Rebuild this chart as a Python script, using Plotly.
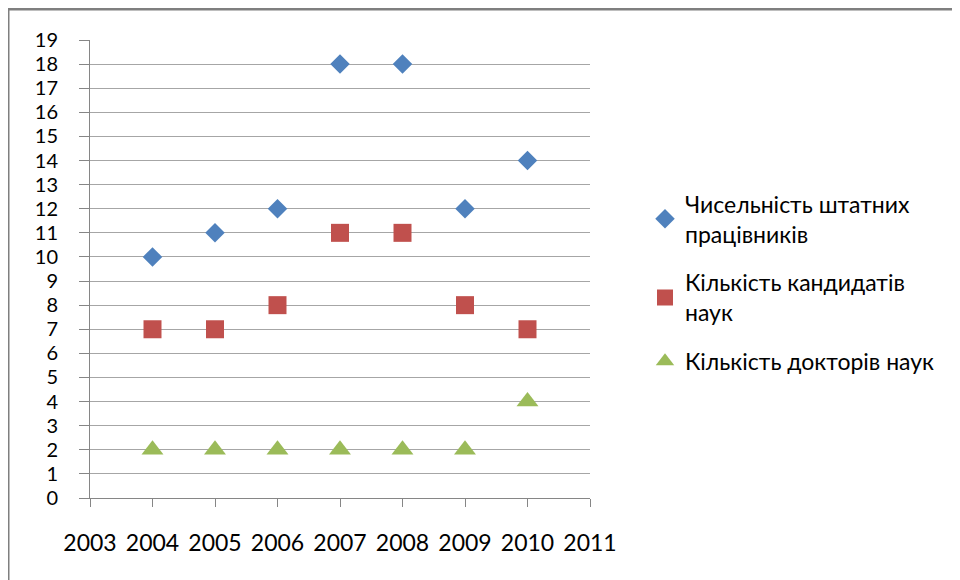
import plotly.graph_objects as go

years = [2004, 2005, 2006, 2007, 2008, 2009, 2010]
staff = [10, 11, 12, 18, 18, 12, 14]
candidates = [7, 7, 8, 11, 11, 8, 7]
doctors = [2, 2, 2, 2, 2, 2, 4]
names = ["Чисельність штатних<br>працівників", "Кількість кандидатів<br>наук", "Кількість докторів наук"]
colors = ["#4F81BD", "#C0504D", "#9BBB59"]
symbols = ["diamond", "square", "triangle-up"]
sizes = [15, 18, 19]

fig = go.Figure()
for i, ys in enumerate([staff, candidates, doctors]):
    fig.add_trace(go.Scatter(
        x=years, y=ys, mode="markers", name=names[i],
        legendgroup=str(i),
        marker=dict(symbol=symbols[i], color=colors[i], size=sizes[i], line=dict(width=0)),
    ))

font = "Lato, Carlito, Calibri, sans-serif"
axis_common = dict(
    showline=True, linecolor="#868686", linewidth=1,
    ticks="outside", tickcolor="#868686", zeroline=False,
)
fig.update_xaxes(range=[2003, 2011], tickvals=list(range(2003, 2012)), showgrid=False,
                 ticklen=8, ticklabelstandoff=16,
                 tickfont=dict(family=font, size=23, color="#000000"), **axis_common)
fig.update_yaxes(range=[0, 19], tickvals=list(range(0, 20)), showgrid=True,
                 gridcolor="#A6A6A6", gridwidth=1, ticklen=10, ticklabelstandoff=17,
                 tickfont=dict(family=font, size=20, color="#000000"), **axis_common)

# outer chart frame
fig.add_shape(type="line", xref="paper", yref="paper", x0=-0.164, x1=2.0, y0=1.0677, y1=1.0677,
              line=dict(color="#7F7F7F", width=3))
fig.add_shape(type="line", xref="paper", yref="paper", x0=-0.164, x1=-0.164, y0=1.0677, y1=-1.0,
              line=dict(color="#7F7F7F", width=3))

fig.update_layout(
    width=952, height=572,
    margin=dict(l=82, r=370, t=32, b=82),
    plot_bgcolor="white", paper_bgcolor="white",
    showlegend=True,
    legend=dict(x=1.11, y=0.47, xanchor="left", yanchor="middle",
                font=dict(family=font, size=23, color="#000000"),
                tracegroupgap=16, bgcolor="rgba(0,0,0,0)"),
)
fig.write_html("out.html")
